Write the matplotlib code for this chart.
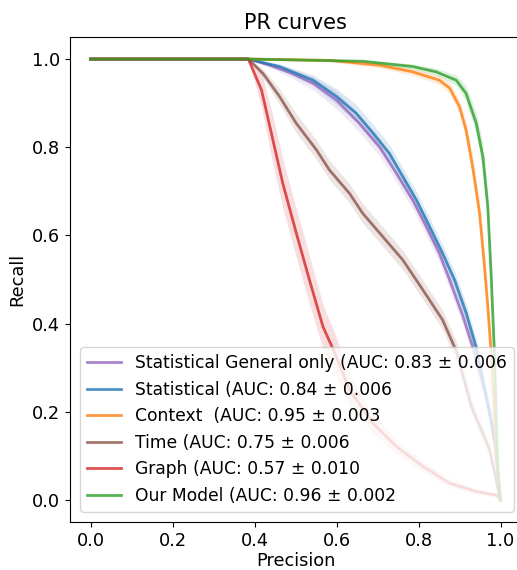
import numpy as np
import matplotlib
matplotlib.use("Agg")
import matplotlib.pyplot as plt

# Mean precision/recall curves per model, with +/- std band half-widths
labels = [
    "Statistical General only (AUC: 0.83 \u00b1 0.006",
    "Statistical (AUC: 0.84 \u00b1 0.006",
    "Context  (AUC: 0.95 \u00b1 0.003",
    "Time (AUC: 0.75 \u00b1 0.006",
    "Graph (AUC: 0.57 \u00b1 0.010",
    "Our Model (AUC: 0.96 \u00b1 0.002",
]
colors = ["tab:purple", "tab:blue", "tab:orange", "tab:brown", "tab:red", "tab:green"]

general_x = [0.0, 0.385, 0.437, 0.490, 0.543, 0.600, 0.656, 0.705, 0.746, 0.786,
             0.819, 0.851, 0.876, 0.908, 0.932, 0.955, 0.973, 0.986, 1.0]
general_y = [1.0, 1.0, 0.986, 0.968, 0.945, 0.907, 0.854, 0.801, 0.741, 0.680,
             0.620, 0.559, 0.499, 0.418, 0.348, 0.270, 0.200, 0.130, 0.0]
general_sd = [0, 0, 0.005, 0.01, 0.015, 0.02, 0.02, 0.02, 0.02, 0.02,
              0.02, 0.02, 0.02, 0.02, 0.02, 0.02, 0.02, 0.02, 0]

stat_x = [0.0, 0.385, 0.461, 0.543, 0.600, 0.648, 0.689, 0.729, 0.762, 0.795,
          0.827, 0.859, 0.888, 0.916, 0.941, 0.957, 0.973, 0.986, 1.0]
stat_y = [1.0, 1.0, 0.983, 0.952, 0.915, 0.877, 0.832, 0.786, 0.733, 0.680,
          0.620, 0.559, 0.499, 0.425, 0.345, 0.272, 0.200, 0.130, 0.0]
stat_sd = [0, 0, 0.006, 0.012, 0.018, 0.02, 0.02, 0.02, 0.02, 0.02,
           0.02, 0.02, 0.02, 0.02, 0.02, 0.02, 0.02, 0.02, 0]

context_x = [0.0, 0.385, 0.583, 0.705, 0.786, 0.851, 0.876, 0.900, 0.916, 0.932,
             0.949, 0.961, 0.969, 0.977, 0.990, 1.0]
context_y = [1.0, 1.0, 0.997, 0.986, 0.971, 0.952, 0.934, 0.892, 0.839, 0.756,
             0.650, 0.529, 0.438, 0.336, 0.098, 0.0]
context_sd = [0, 0, 0.003, 0.006, 0.008, 0.01, 0.012, 0.015, 0.02, 0.025,
              0.03, 0.03, 0.03, 0.03, 0.02, 0]

time_x = [0.0, 0.385, 0.421, 0.461, 0.502, 0.551, 0.583, 0.632, 0.664, 0.713,
          0.762, 0.811, 0.859, 0.892, 0.929, 0.973, 1.0]
time_y = [1.0, 1.0, 0.967, 0.915, 0.854, 0.794, 0.748, 0.695, 0.650, 0.597,
          0.544, 0.476, 0.408, 0.338, 0.212, 0.115, 0.0]
time_sd = [0, 0, 0.01, 0.018, 0.022, 0.022, 0.022, 0.022, 0.022, 0.022,
           0.022, 0.022, 0.022, 0.022, 0.02, 0.015, 0]

graph_x = [0.0, 0.385, 0.417, 0.445, 0.469, 0.502, 0.534, 0.567, 0.595, 0.632,
           0.689, 0.746, 0.811, 0.876, 0.941, 0.990, 1.0]
graph_y = [1.0, 1.0, 0.930, 0.816, 0.718, 0.605, 0.499, 0.393, 0.335, 0.249,
           0.174, 0.121, 0.076, 0.038, 0.019, 0.011, 0.0]
graph_sd = [0, 0, 0.04, 0.055, 0.055, 0.055, 0.055, 0.05, 0.045, 0.035,
            0.022, 0.016, 0.012, 0.01, 0.006, 0.004, 0]

ours_x = [0.0, 0.385, 0.664, 0.786, 0.843, 0.892, 0.916, 0.941, 0.957, 0.969,
          0.977, 0.985, 0.994, 1.0]
ours_y = [1.0, 1.0, 0.995, 0.983, 0.971, 0.952, 0.922, 0.854, 0.778, 0.665,
          0.514, 0.336, 0.060, 0.0]
ours_sd = [0, 0, 0.003, 0.006, 0.008, 0.012, 0.018, 0.025, 0.03, 0.03,
           0.03, 0.03, 0.02, 0]


def main():
    curves = [
        (general_x, general_y, general_sd),
        (stat_x, stat_y, stat_sd),
        (context_x, context_y, context_sd),
        (time_x, time_y, time_sd),
        (graph_x, graph_y, graph_sd),
        (ours_x, ours_y, ours_sd),
    ]

    fig = plt.figure(figsize=(5.17, 5.70), dpi=100)
    ax = fig.add_axes([70 / 517, 48 / 570, 451 / 517, 485 / 570])

    for (x, y, sd), label, color in zip(curves, labels, colors):
        x = np.array(x)
        y = np.array(y)
        sd = np.array(sd)
        ax.plot(x, y, color=color, lw=2, alpha=0.8, label=label)
        ax.fill_between(x, y - sd, np.minimum(y + sd, 1.0), color=color, alpha=0.15, lw=0)

    ax.set_title("PR curves", fontsize=15)
    ax.set_xlabel("Precision", fontsize=12.8, labelpad=2)
    ax.set_ylabel("Recall", fontsize=12.8)
    ax.tick_params(labelsize=12.8)
    ax.legend(loc="lower left", fontsize=12.3, borderaxespad=0.6)

    fig.savefig("out.png", dpi=100)


if __name__ == "__main__":
    main()
